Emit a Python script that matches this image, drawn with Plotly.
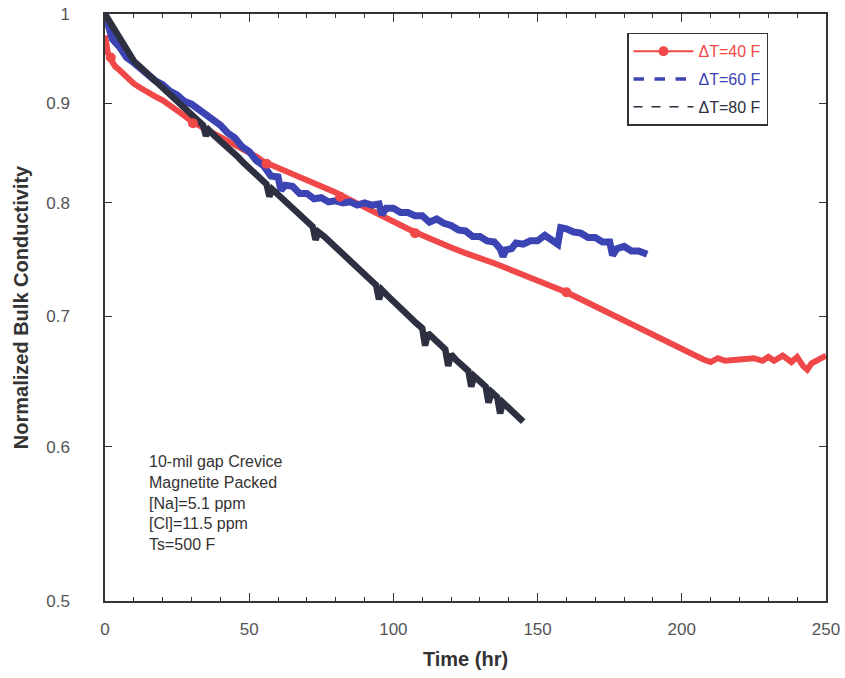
import plotly.graph_objects as go

# ---- data ----
t40 = [0, 0.5, 1, 2, 3.5, 5, 7.5, 10, 12.5, 15, 17.5, 20, 22.5, 25, 27.5, 30, 32.5, 35, 37.5, 40,
       42.5, 45, 47.5, 50, 52.5, 55, 57.5, 60, 65, 70, 75, 80, 85, 90, 95, 100, 105, 110, 115,
       120, 125, 130, 135, 140, 145, 150, 155, 160, 165, 170, 175, 180, 185, 190, 195, 200, 205,
       207.5, 210, 212.5, 215, 220, 225, 228, 230, 232, 235, 238, 240, 242, 243.5, 245, 247.5, 250]
v40 = [0.975, 0.962, 0.955, 0.948, 0.940, 0.936, 0.928, 0.921, 0.916, 0.911, 0.907, 0.903, 0.898,
       0.892, 0.887, 0.881, 0.877, 0.873, 0.869, 0.865, 0.861, 0.858, 0.853, 0.849, 0.845, 0.840,
       0.837, 0.834, 0.828, 0.822, 0.816, 0.810, 0.803, 0.796, 0.789, 0.782, 0.776, 0.770, 0.764,
       0.759, 0.754, 0.750, 0.745, 0.740, 0.735, 0.731, 0.726, 0.720, 0.714, 0.708, 0.702, 0.697,
       0.691, 0.685, 0.679, 0.673, 0.667, 0.665, 0.663, 0.666, 0.664, 0.665, 0.666, 0.664, 0.667,
       0.664, 0.668, 0.663, 0.667, 0.660, 0.657, 0.662, 0.665, 0.668]
t40_marks = [2, 30.5, 56, 81.5, 107.5, 160]
v40_marks = [0.950, 0.879, 0.838, 0.806, 0.772, 0.720]

t60 = [0, 1, 2.5, 5, 7.5, 10, 12.5, 15, 17.5, 20, 22.5, 25, 27.5, 30, 32.5, 35, 37.5, 40, 42.5,
       45, 47.5, 50, 52.5, 55, 57.5, 60, 61, 62.5, 65, 67.5, 70, 72.5, 75, 77.5, 80, 82.5, 85, 87.5,
       90, 92.5, 95, 96, 97.5, 100, 102.5, 105, 107.5, 110, 112.5, 115, 117.5, 120, 122.5, 125,
       127.5, 130, 132.5, 135, 137, 138, 139, 141, 142.5, 145, 147.5, 150, 152.5, 155, 157, 158,
       160, 162.5, 165, 167.5, 170, 172.5, 175, 176, 177.5, 180, 182.5, 185, 187.5, 188]
v60 = [1.000, 0.985, 0.971, 0.962, 0.950, 0.944, 0.937, 0.932, 0.924, 0.920, 0.913, 0.909, 0.902,
       0.899, 0.893, 0.889, 0.882, 0.877, 0.869, 0.864, 0.855, 0.850, 0.841, 0.836, 0.826, 0.825,
       0.812, 0.817, 0.816, 0.809, 0.809, 0.804, 0.805, 0.801, 0.802, 0.800, 0.801, 0.798, 0.800,
       0.798, 0.799, 0.789, 0.795, 0.795, 0.791, 0.791, 0.788, 0.788, 0.782, 0.785, 0.781, 0.779,
       0.775, 0.774, 0.769, 0.769, 0.765, 0.764, 0.758, 0.751, 0.757, 0.758, 0.763, 0.762, 0.765,
       0.765, 0.770, 0.766, 0.762, 0.777, 0.776, 0.773, 0.772, 0.768, 0.768, 0.764, 0.764, 0.752,
       0.758, 0.760, 0.756, 0.756, 0.752, 0.753]

t80 = [0, 2, 4, 6, 8, 10, 12, 14, 16, 18, 20, 22, 24, 26, 28, 30, 32, 34, 35, 36, 38, 40, 42, 44,
       46, 48, 50, 52, 54, 56, 57, 58, 60, 62, 64, 66, 68, 70, 72, 73, 74, 76, 78, 80, 82, 84, 86,
       88, 90, 92, 94, 95, 96, 98, 100, 102, 104, 106, 108, 110, 111, 112, 114, 116, 118, 119, 120,
       122, 124, 126, 127, 128, 130, 132, 133, 134, 136, 137, 138, 140, 142, 144, 145]
v80 = [1.000, 0.989, 0.978, 0.966, 0.955, 0.946, 0.940, 0.934, 0.928, 0.923, 0.917, 0.911, 0.905,
       0.900, 0.894, 0.888, 0.883, 0.877, 0.866, 0.872, 0.866, 0.861, 0.855, 0.850, 0.845, 0.839,
       0.834, 0.829, 0.824, 0.818, 0.806, 0.813, 0.808, 0.803, 0.798, 0.793, 0.788, 0.783, 0.778,
       0.766, 0.773, 0.769, 0.764, 0.759, 0.754, 0.750, 0.745, 0.740, 0.735, 0.731, 0.726, 0.714,
       0.722, 0.717, 0.712, 0.708, 0.703, 0.699, 0.694, 0.690, 0.676, 0.686, 0.681, 0.677, 0.673,
       0.660, 0.669, 0.664, 0.660, 0.656, 0.644, 0.652, 0.648, 0.644, 0.632, 0.640, 0.636, 0.624,
       0.632, 0.628, 0.624, 0.620, 0.618]

y_ticks = [0.5, 0.6, 0.7, 0.8, 0.9, 1.0]
y_tick_text = ["0.5", "0.6", "0.7", "0.8", "0.9", "1"]
x_ticks = [0, 50, 100, 150, 200, 250]

RED = "#f04848"
BLUE = "#3c44b4"
DARK = "#2c3040"

fig = go.Figure()
fig.add_trace(go.Scatter(x=t40, y=v40, mode="lines", line=dict(color=RED, width=6),
                         showlegend=False))
fig.add_trace(go.Scatter(x=t60, y=v60, mode="lines", line=dict(color=BLUE, width=7),
                         showlegend=False))
fig.add_trace(go.Scatter(x=t80, y=v80, mode="lines", line=dict(color=DARK, width=6.5),
                         showlegend=False))
fig.add_trace(go.Scatter(x=t40_marks, y=v40_marks, mode="markers",
                         marker=dict(color=RED, size=10), showlegend=False))

# legend entries
fig.add_trace(go.Scatter(x=[None], y=[None], mode="lines+markers", legendgroup="a",
                         line=dict(color=RED, width=2), marker=dict(color=RED, size=10),
                         name="<span style='color:#f04848'>ΔT=40 F</span>"))
fig.add_trace(go.Scatter(x=[None], y=[None], mode="lines", legendgroup="b",
                         line=dict(color=BLUE, width=3.5, dash="dash"),
                         name="<span style='color:#3c44b4'>ΔT=60 F</span>"))
fig.add_trace(go.Scatter(x=[None], y=[None], mode="lines", legendgroup="c",
                         line=dict(color=DARK, width=1.5, dash="dash"),
                         name="<span style='color:#2c3040'>ΔT=80 F</span>"))

fig.update_layout(
    width=845, height=678,
    margin=dict(l=105, r=19, t=14, b=77, autoexpand=False),
    paper_bgcolor="white", plot_bgcolor="white",
    font=dict(family="Liberation Sans, Arial", size=17, color="#555"),
    showlegend=True,
    legend=dict(x=0.724, y=0.968, xanchor="left", yanchor="top",
                bordercolor="#333", borderwidth=1.5, bgcolor="white",
                font=dict(size=16), tracegroupgap=4, itemwidth=60),
    annotations=[dict(
        x=0.058, y=0.255, xref="paper", yref="paper", xanchor="left", yanchor="top",
        showarrow=False, align="left",
        text="10-mil gap Crevice<br>Magnetite Packed<br>[Na]=5.1 ppm<br>[Cl]=11.5 ppm<br>Ts=500 F",
        font=dict(size=16, color="#333"))],
)
fig.update_xaxes(
    range=[0, 250], tickvals=x_ticks, ticks="inside", ticklen=8, tickcolor="#333",
    showline=True, linecolor="#333", linewidth=1.5, mirror="allticks", showgrid=False,
    zeroline=False, automargin=False, ticklabelstandoff=12,
    minor=dict(dtick=10, ticks="inside", ticklen=4, tickcolor="#333", showgrid=False),
    title=dict(text="<b>Time (hr)</b>", font=dict(size=20, color="#333"), standoff=14),
)
fig.update_yaxes(
    type="log", range=[-0.30103, 0], tickvals=y_ticks, ticktext=y_tick_text,
    ticks="inside", ticklen=7, tickcolor="#333", ticklabelstandoff=30,
    showline=True, linecolor="#333", linewidth=1.5, mirror="allticks", showgrid=False,
    zeroline=False, automargin=False,
    title=dict(text="<b>Normalized Bulk Conductivity</b>", font=dict(size=20, color="#333"),
               standoff=12),
)

fig.write_html("out.html")
